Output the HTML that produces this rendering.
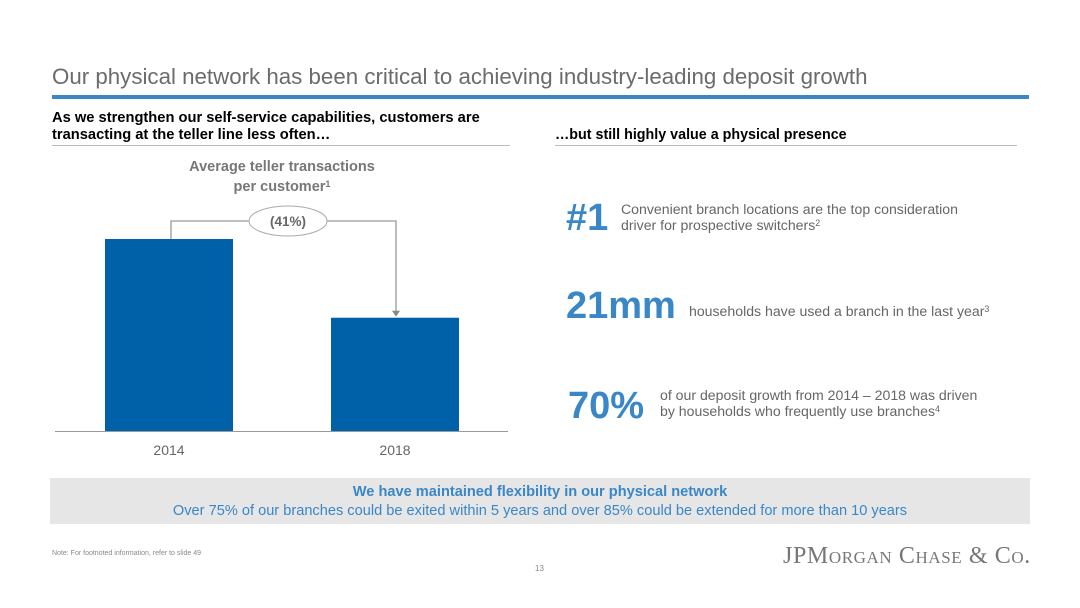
<!DOCTYPE html>
<html><head><meta charset="utf-8">
<style>
body{margin:0;width:1080px;height:608px;background:#fff;font-family:"Liberation Sans",sans-serif;position:relative;overflow:hidden}
.a{position:absolute;white-space:nowrap}
.big{color:#3a87c7;font-weight:bold}
.txt{color:#666;font-size:14.1px;line-height:16px}
sup{font-size:9px;vertical-align:4px;line-height:0}
</style></head><body>
<div class="a" style="left:52px;top:64px;font-size:22.3px;color:#6b6b6b">Our physical network has been critical to achieving industry-leading deposit growth</div>
<div class="a" style="left:52px;top:95px;width:977px;height:4px;background:#3a87c7"></div>
<div class="a" style="left:52px;top:110px;font-size:14.7px;font-weight:bold;line-height:17px;color:#000">As we strengthen our self-service capabilities, customers are<br>transacting at the teller line less often…</div>
<div class="a" style="left:52px;top:145px;width:458px;height:1px;background:#bbb"></div>
<div class="a" style="left:555px;top:127px;font-size:14.3px;font-weight:bold;color:#000">…but still highly value a physical presence</div>
<div class="a" style="left:555px;top:145px;width:462px;height:1px;background:#bbb"></div>
<div class="a" style="left:52px;top:157px;width:460px;text-align:center;font-size:14.5px;font-weight:bold;color:#777;line-height:20px">Average teller transactions<br>per customer<sup>1</sup></div>
<svg class="a" style="left:0;top:0" width="1080" height="608" id="chart"></svg>

<div class="a big" style="left:566px;top:197px;font-size:38px">#1</div>
<div class="a txt" style="left:621px;top:201px">Convenient branch locations are the top consideration<br>driver for prospective switchers<sup>2</sup></div>
<div class="a big" style="left:566px;top:285px;font-size:38px">21mm</div>
<div class="a txt" style="left:689px;top:303px">households have used a branch in the last year<sup>3</sup></div>
<div class="a big" style="left:568px;top:385px;font-size:38px">70%</div>
<div class="a txt" style="left:660px;top:387px">of our deposit growth from 2014 – 2018 was driven<br>by households who frequently use branches<sup>4</sup></div>

<div class="a" style="left:50px;top:478px;width:980px;height:46px;background:#e6e6e6;text-align:center;color:#3a87c7;font-size:14.6px;line-height:19px">
<div style="font-weight:bold;margin-top:5px">We have maintained flexibility in our physical network</div>
<div>Over 75% of our branches could be exited within 5 years and over 85% could be extended for more than 10 years</div></div>
<div class="a" style="left:52px;top:550px;font-size:7px;color:#888">Note: For footnoted information, refer to slide 49</div>
<div class="a" style="left:535px;top:564px;font-size:8px;color:#888">13</div>
<div class="a" style="left:783px;top:543px;font-family:'Liberation Serif',serif;font-size:24px;letter-spacing:0.6px;color:#777;font-variant:small-caps">JPMorgan Chase &amp; Co.</div>

<script>
const categories=["2014","2018"];
const values=[100,59];
const changeLabel="(41%)";
const svg=document.getElementById('chart');
const NS="http://www.w3.org/2000/svg";
const base=431, scale=1.92, x0=105, step=226, bw=128;
const y=v=>base-v*scale;
const x=i=>x0+i*step;
function mk(t,a){const e=document.createElementNS(NS,t);for(const k in a)e.setAttribute(k,a[k]);svg.appendChild(e);return e;}
values.forEach((v,i)=>{
 const r=mk('rect',{x:x(i),y:y(v),width:bw,height:v*scale,fill:'#0060a8'});
 
 
 const t=mk('text',{x:x(i)+bw/2,y:base+24,'text-anchor':'middle','font-size':14,fill:'#666'});
 t.textContent=categories[i];
 
 
});
const ax=mk('line',{x1:55,x2:508,y1:base+0.5,y2:base+0.5,stroke:'#999'});


const c0=x(0)+bw/2+2,c1=x(1)+bw/2+1,ly=221;
const br=mk('path',{d:`M${c0} ${y(values[0])}V${ly}H${c1}V${y(values[1])-6}`,fill:'none',stroke:'#999','stroke-width':1.3});


const ar=mk('path',{d:`M${c1-4} ${y(values[1])-7}L${c1+4} ${y(values[1])-7}L${c1} ${y(values[1])-1}Z`,fill:'#888'});


const el=mk('ellipse',{cx:288,cy:ly,rx:39,ry:15,fill:'#fff',stroke:'#aaa'});


const ct=mk('text',{x:288,y:ly+5,'text-anchor':'middle','font-size':13.5,'font-weight':'bold',fill:'#666'});
ct.textContent=changeLabel;


</script>
</body></html>
